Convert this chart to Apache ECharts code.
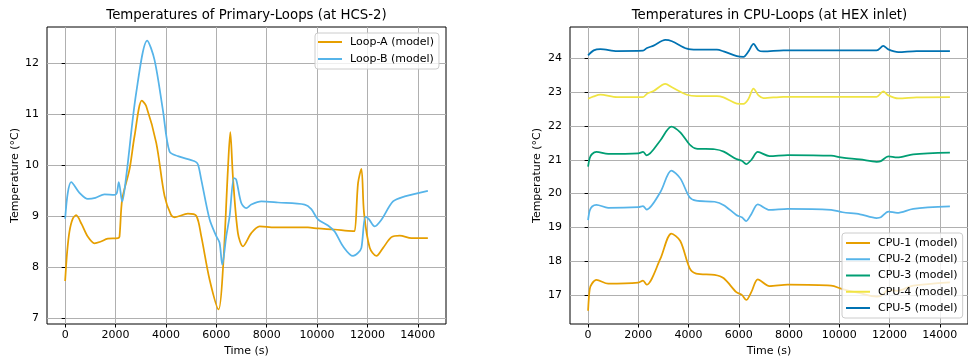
<!DOCTYPE html>
<html>
<head>
<meta charset="utf-8">
<script src="https://cdn.jsdelivr.net/npm/echarts@6/dist/echarts.min.js"></script>
<style>
  html, body { margin: 0; padding: 0; background: #fff; }
  #main { width: 968px; height: 362px; }
</style>
</head>
<body>
<div id="main"></div>
<script>
// Primary loops (left panel)
const tLoopA = [0, 80, 171, 300, 437, 650, 900, 1165, 1400, 1694, 2100, 2158, 2265, 2555, 2754, 3045, 3220, 3617, 3946, 4200, 4343, 4872, 5205, 5404, 5734, 6092, 6263, 6462, 6557, 6660, 6859, 7058, 7390, 7721, 8317, 9640, 10037, 10700, 11429, 11495, 11628, 11761, 11866, 12092, 12358, 12623, 12955, 13285, 13750, 14400]
const loopA = [7.73, 8.3, 8.7, 8.95, 9.02, 8.85, 8.6, 8.47, 8.5, 8.56, 8.57, 8.6, 9.33, 9.92, 10.57, 11.27, 11.16, 10.44, 9.4, 9.03, 8.98, 9.05, 9.01, 8.61, 7.76, 7.17, 7.95, 9.92, 10.65, 9.78, 8.67, 8.41, 8.67, 8.8, 8.78, 8.78, 8.76, 8.74, 8.71, 8.71, 9.65, 9.93, 9.06, 8.38, 8.22, 8.38, 8.59, 8.62, 8.57, 8.57]

const tLoopB = [0, 105, 238, 568, 900, 1200, 1562, 1960, 2050, 2131, 2265, 2424, 2821, 3258, 3548, 3879, 4144, 4475, 5138, 5270, 5404, 5734, 6000, 6131, 6238, 6397, 6529, 6701, 6790, 6993, 7192, 7390, 7788, 8450, 9509, 9774, 10037, 10435, 10700, 11032, 11429, 11628, 11761, 11920, 12050, 12290, 12555, 13017, 13482, 14400]
const loopB = [8.95, 9.46, 9.67, 9.46, 9.34, 9.36, 9.43, 9.42, 9.45, 9.67, 9.29, 9.78, 11.42, 12.45, 12.07, 11.09, 10.27, 10.18, 10.08, 10.02, 9.72, 8.94, 8.61, 8.48, 8.05, 8.61, 9.0, 9.75, 9.72, 9.26, 9.16, 9.23, 9.29, 9.27, 9.23, 9.14, 8.94, 8.82, 8.7, 8.41, 8.22, 8.28, 8.38, 8.99, 8.95, 8.8, 8.93, 9.29, 9.39, 9.5]

// CPU loops (right panel)
const tCpuA = [0, 66, 160, 331, 800, 2000, 2185, 2330, 2874, 3313, 3669, 4040, 4300, 5034, 5400, 5900, 6119, 6293, 6500, 6754, 7219, 7947, 9670, 10131, 10821, 11483, 11650, 11950, 12300, 12940, 14400]
const cpu1 = [16.54, 17.18, 17.35, 17.45, 17.34, 17.37, 17.43, 17.31, 18.07, 18.82, 18.6, 17.8, 17.64, 17.6, 17.5, 17.09, 17.01, 16.86, 17.1, 17.47, 17.27, 17.31, 17.28, 17.18, 17.06, 16.96, 16.98, 17.15, 17.13, 17.28, 17.38]
const cpu2 = [19.22, 19.5, 19.62, 19.67, 19.58, 19.6, 19.63, 19.53, 20.04, 20.68, 20.45, 19.89, 19.79, 19.76, 19.66, 19.37, 19.3, 19.19, 19.4, 19.68, 19.52, 19.55, 19.52, 19.45, 19.39, 19.28, 19.3, 19.47, 19.43, 19.55, 19.62]
const cpu3 = [20.8, 21.05, 21.17, 21.23, 21.17, 21.19, 21.23, 21.13, 21.57, 21.98, 21.81, 21.45, 21.33, 21.31, 21.24, 21.02, 20.97, 20.87, 21.0, 21.23, 21.11, 21.14, 21.12, 21.06, 21.01, 20.94, 20.96, 21.1, 21.07, 21.16, 21.21]

const tCpuB = [0, 225, 490, 1152, 2185, 2345, 2609, 3073, 3338, 3934, 4331, 5126, 5391, 5921, 6185, 6384, 6583, 6782, 6980, 7775, 11483, 11748, 11947, 12344, 13073, 14400]
const cpu4 = [22.8, 22.87, 22.92, 22.85, 22.85, 22.95, 23.03, 23.24, 23.14, 22.92, 22.88, 22.88, 22.84, 22.66, 22.65, 22.8, 23.1, 22.9, 22.82, 22.86, 22.86, 23.02, 22.9, 22.81, 22.84, 22.85]
const cpu5 = [24.08, 24.23, 24.27, 24.21, 24.22, 24.3, 24.37, 24.54, 24.5, 24.28, 24.25, 24.25, 24.2, 24.06, 24.04, 24.2, 24.42, 24.23, 24.2, 24.23, 24.23, 24.36, 24.26, 24.18, 24.21, 24.21]

const xTicks = [0, 2000, 4000, 6000, 8000, 10000, 12000, 14000]
const yTicksLeft = [7, 8, 9, 10, 11, 12]
const yTicksRight = [17, 18, 19, 20, 21, 22, 23, 24]

const colors = ['#E69F00', '#56B4E9', '#009E73', '#F0E442', '#0072B2']
const font = 'DejaVu Sans'
const fs = 11

const pairs = (ts, vs) => ts.map((t, i) => [t, vs[i]])

const xAxisFor = (gridIndex) => ({
  type: 'value', gridIndex, min: -720, max: 15120,
  name: 'Time (s)', nameLocation: 'middle', nameGap: 22,
  nameTextStyle: { fontSize: fs, color: '#000', fontFamily: font },
  axisLine: { show: false },
  axisTick: { show: true, length: 3.5, customValues: xTicks, lineStyle: { color: '#000', width: 1 } },
  axisLabel: { customValues: xTicks, fontSize: fs, color: '#000', fontFamily: font, margin: 6, formatter: (v) => String(v) },
  splitLine: { show: true, lineStyle: { color: '#b0b0b0', width: 1 } },
})

const yAxisFor = (gridIndex, min, max, ticks, gap) => ({
  type: 'value', gridIndex, min, max,
  name: 'Temperature (°C)', nameLocation: 'middle', nameGap: gap,
  nameTextStyle: { fontSize: fs, color: '#000', fontFamily: font },
  axisLine: { show: false },
  axisTick: { show: true, length: 3.5, customValues: ticks, lineStyle: { color: '#000', width: 1 } },
  axisLabel: { customValues: ticks, fontSize: fs, color: '#000', fontFamily: font, margin: 8, formatter: (v) => String(v) },
  splitLine: { show: true, lineStyle: { color: '#b0b0b0', width: 1 } },
})

const line = (name, data, idx, color) => ({
  name, type: 'line', data, xAxisIndex: idx, yAxisIndex: idx,
  showSymbol: false, smooth: 0.3,
  lineStyle: { color, width: 1.75 }, itemStyle: { color },
})

const legendFor = (left, top, names, gap, pad) => ({
  orient: 'vertical', left, top, data: names,
  icon: 'rect', itemWidth: 24, itemHeight: 2, itemGap: gap,
  padding: pad,
  backgroundColor: 'rgba(255,255,255,0.8)', borderColor: '#cccccc', borderWidth: 1, borderRadius: 3,
  textStyle: { fontSize: fs, color: '#000', fontFamily: font, lineHeight: 13, padding: [0, 0, 0, 3] },
})

const chart = echarts.init(document.getElementById('main'))
chart.setOption({
  animation: false,
  backgroundColor: '#fff',
  title: [
    { text: 'Temperatures of Primary-Loops (at HCS-2)', left: 246.5, top: 9, padding: 0, textAlign: 'center',
      textStyle: { fontSize: 13.3, fontWeight: 'normal', color: '#000', fontFamily: font } },
    { text: 'Temperatures in CPU-Loops (at HEX inlet)', left: 769.5, top: 9, padding: 0, textAlign: 'center',
      textStyle: { fontSize: 13.3, fontWeight: 'normal', color: '#000', fontFamily: font } },
  ],
  grid: [
    { left: 47, top: 27, width: 399, height: 297, show: true, borderColor: '#000', borderWidth: 1, containLabel: false },
    { left: 570, top: 27, width: 399, height: 297, show: true, borderColor: '#000', borderWidth: 1, containLabel: false },
  ],
  xAxis: [xAxisFor(0), xAxisFor(1)],
  yAxis: [
    yAxisFor(0, 6.885, 12.715, yTicksLeft, 25),
    yAxisFor(1, 16.15, 24.92, yTicksRight, 27),
  ],
  legend: [
    legendFor(315, 33, ['Loop-A (model)', 'Loop-B (model)'], 4, [2.5, 5, 3.5, 3]),
    legendFor(842, 233, ['CPU-1 (model)', 'CPU-2 (model)', 'CPU-3 (model)', 'CPU-4 (model)', 'CPU-5 (model)'], 3.25, [3.5, 5, 3.5, 4]),
  ],
  series: [
    line('Loop-A (model)', pairs(tLoopA, loopA), 0, colors[0]),
    line('Loop-B (model)', pairs(tLoopB, loopB), 0, colors[1]),
    line('CPU-1 (model)', pairs(tCpuA, cpu1), 1, colors[0]),
    line('CPU-2 (model)', pairs(tCpuA, cpu2), 1, colors[1]),
    line('CPU-3 (model)', pairs(tCpuA, cpu3), 1, colors[2]),
    line('CPU-4 (model)', pairs(tCpuB, cpu4), 1, colors[3]),
    line('CPU-5 (model)', pairs(tCpuB, cpu5), 1, colors[4]),
  ],
})
</script>
</body>
</html>
